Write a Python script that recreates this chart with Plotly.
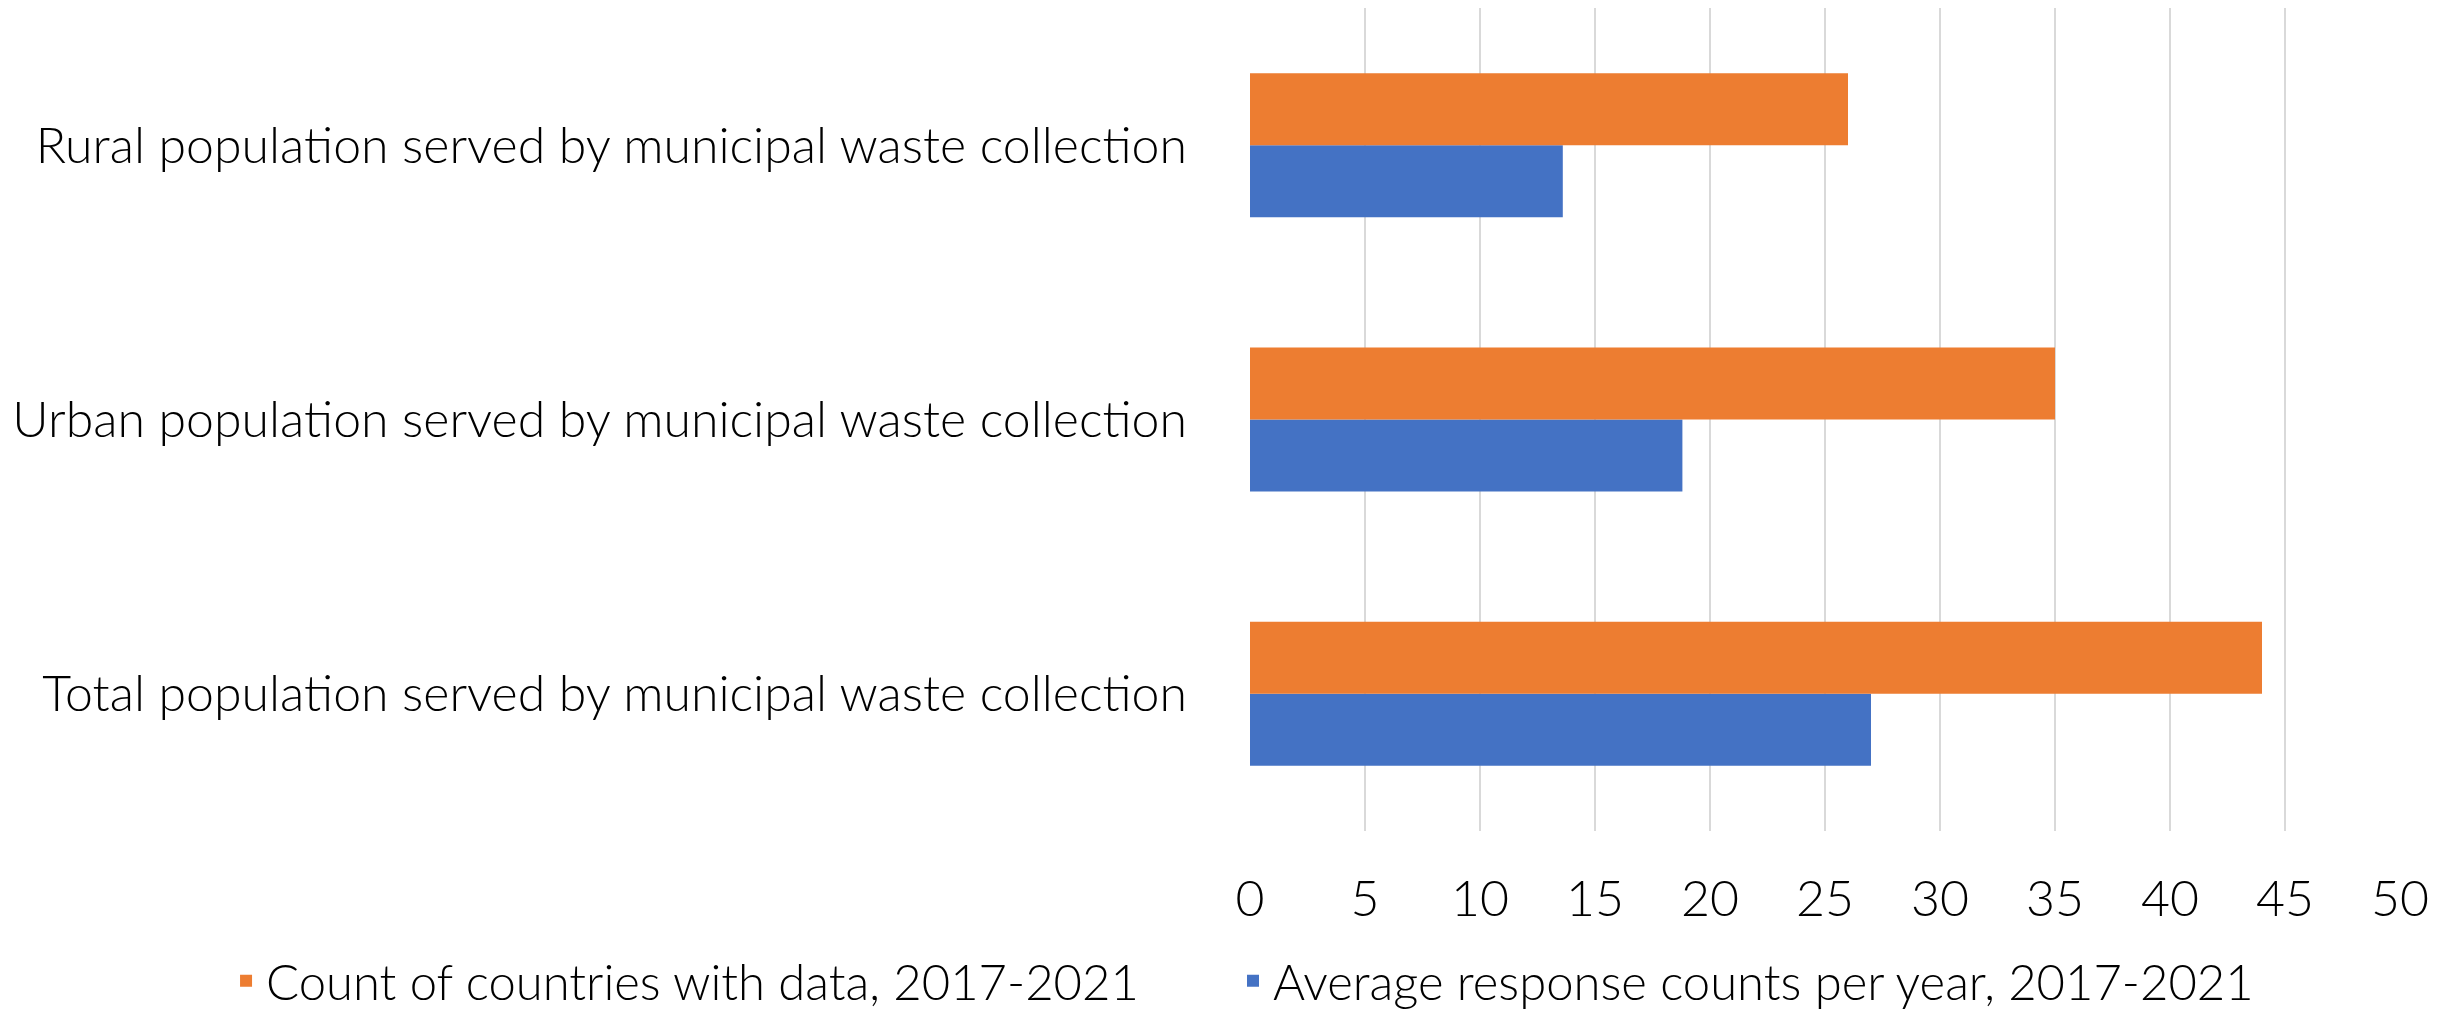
import plotly.graph_objects as go

categories = [
    "Total population served by municipal waste collection",
    "Urban population served by municipal waste collection",
    "Rural population served by municipal waste collection",
]
avg_response = [27.0, 18.8, 13.6]
count_countries = [44, 35, 26]
x_ticks = [0, 5, 10, 15, 20, 25, 30, 35, 40, 45, 50]

FONT = "Lato"
FS = 50
LFS = 49

fig = go.Figure()
fig.add_trace(go.Bar(
    y=categories, x=avg_response, orientation="h",
    name="Average response counts per year, 2017-2021",
    marker=dict(color="#4472C4", line=dict(width=0)),
    legend="legend2",
))
fig.add_trace(go.Bar(
    y=categories, x=count_countries, orientation="h",
    name="Count of countries with data, 2017-2021",
    marker=dict(color="#ED7D31", line=dict(width=0)),
    legend="legend",
))

leg_common = dict(orientation="h", xanchor="left", yref="container", xref="container",
                  y=0.031, yanchor="middle", font=dict(family=FONT, size=LFS, weight=300),
                  itemwidth=30, bgcolor="rgba(0,0,0,0)", borderwidth=0)

fig.update_layout(
    width=2450, height=1004,
    barmode="group", bargap=0.475, bargroupgap=0,
    plot_bgcolor="white", paper_bgcolor="white",
    margin=dict(l=1242, r=58, t=0, b=181, autoexpand=False),
    font=dict(family=FONT, size=FS, color="#000000", weight=300),
    showlegend=True,
    legend=dict(x=0.089, **leg_common),
    legend2=dict(x=0.5, **leg_common),
)
fig.update_xaxes(
    range=[0, 50], tickvals=x_ticks, ticktext=[str(v) for v in x_ticks],
    showgrid=True, gridcolor="#D9D9D9", gridwidth=2,
    zeroline=False, showline=False, ticks="", ticklabelstandoff=34,
    tickfont=dict(family=FONT, size=FS, weight=300),
)
fig.update_yaxes(
    showgrid=False, zeroline=False, showline=False, ticks="",
    ticklabelstandoff=62, tickfont=dict(family=FONT, size=FS, weight=300),
)

fig.write_html("out.html")
